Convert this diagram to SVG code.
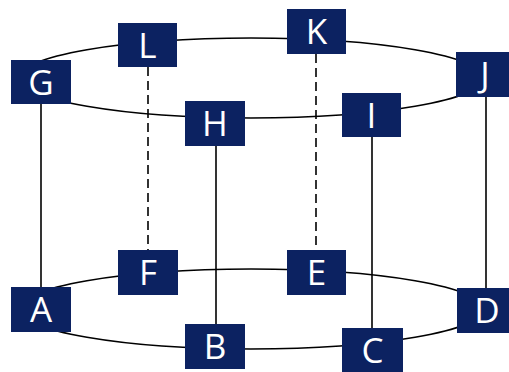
<svg xmlns="http://www.w3.org/2000/svg" width="509" height="372" viewBox="0 0 509 372">
<style>
.ring{fill:none;stroke:#000;stroke-width:1.6}
.v{stroke:#000;stroke-width:1.6;fill:none}
.d{stroke:#000;stroke-width:1.6;fill:none;stroke-dasharray:9 5}
.n rect{fill:#0c2261}
.n text{fill:#fff;font-family:"Open Sans","Liberation Sans",sans-serif;font-size:35px;text-anchor:middle}
</style>
<rect width="509" height="372" fill="#fff"/>
<g id="connectors">
<ellipse class="ring" cx="251" cy="78" rx="232" ry="40"/>
<ellipse class="ring" cx="251" cy="309" rx="232" ry="40"/>
<line class="v" x1="41" y1="104" x2="41" y2="287"/>
<line class="d" x1="148" y1="67" x2="148" y2="250"/>
<line class="v" x1="216" y1="146" x2="216" y2="324"/>
<line class="d" x1="316" y1="54" x2="316" y2="250"/>
<line class="v" x1="372" y1="137" x2="372" y2="328"/>
<line class="v" x1="486" y1="97" x2="486" y2="288"/>
</g>
<g id="G" class="n"><rect x="11" y="60" width="60" height="44"/><text x="41" y="94.5">G</text></g>
<g id="L" class="n"><rect x="118" y="23" width="59" height="44"/><text x="147.5" y="57.5">L</text></g>
<g id="K" class="n"><rect x="287" y="9" width="59" height="45"/><text x="316.5" y="44">K</text></g>
<g id="J" class="n"><rect x="456" y="52" width="60" height="45"/><text x="485" y="87">J</text></g>
<g id="H" class="n"><rect x="185" y="101" width="60" height="45"/><text x="215" y="136">H</text></g>
<g id="I" class="n"><rect x="342" y="93" width="59" height="44"/><text x="371.5" y="127.5">I</text></g>
<g id="F" class="n"><rect x="118" y="250" width="60" height="45"/><text x="148" y="285">F</text></g>
<g id="E" class="n"><rect x="287" y="250" width="59" height="45"/><text x="316.5" y="285">E</text></g>
<g id="A" class="n"><rect x="11" y="287" width="60" height="45"/><text x="41" y="322">A</text></g>
<g id="B" class="n"><rect x="185" y="324" width="60" height="45"/><text x="215" y="359">B</text></g>
<g id="C" class="n"><rect x="342" y="328" width="61" height="45"/><text x="372.5" y="363">C</text></g>
<g id="D" class="n"><rect x="457" y="288" width="60" height="45"/><text x="487" y="323">D</text></g>
</svg>
